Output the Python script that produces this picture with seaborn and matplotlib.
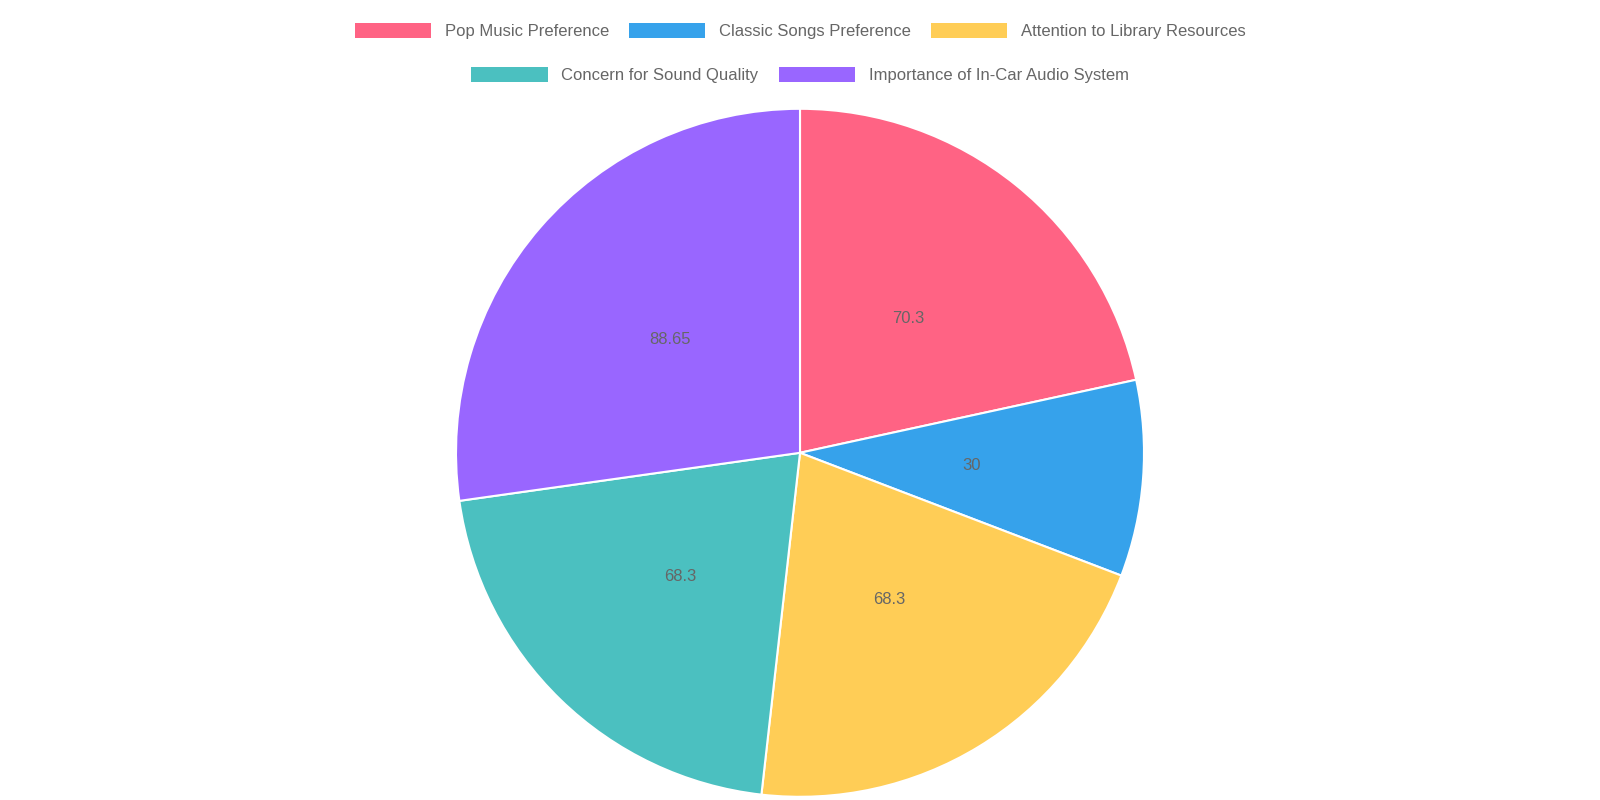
import matplotlib
matplotlib.use("Agg")
import matplotlib.pyplot as plt
import seaborn as sns
from matplotlib.patches import Patch

categories = ["Pop Music Preference", "Classic Songs Preference", "Attention to Library Resources",
              "Concern for Sound Quality", "Importance of In-Car Audio System"]
values = [70.3, 30, 68.3, 68.3, 88.65]
value_labels = ["70.3", "30", "68.3", "68.3", "88.65"]
colors = ["#FF6384", "#36A2EB", "#FFCD56", "#4BC0C0", "#9966FF"]

sns.set_theme(style="white")
plt.rcParams['font.family'] = ['Liberation Sans', 'DejaVu Sans']

fig = plt.figure(figsize=(16, 8), dpi=100)
ax = fig.add_axes([0.285, 0.004, 0.43, 0.86])
lab_iter = iter(value_labels)
wedges, texts, autotexts = ax.pie(values, colors=colors, startangle=90, counterclock=False,
                                  autopct=lambda p: next(lab_iter), pctdistance=0.5,
                                  wedgeprops=dict(edgecolor="white", linewidth=1.5),
                                  textprops=dict(color="#666666", fontsize=12))
ax.set_xlim(-1.0, 1.0)
ax.set_ylim(-1.0, 1.0)
ax.set_aspect("equal")
ax.axis("off")

handles = [Patch(facecolor=c, edgecolor="none") for c in colors]
kw = dict(frameon=False, fontsize=12, handlelength=4.6, handleheight=1.0,
          columnspacing=1.2, handletextpad=0.8, labelcolor="#666666")
fig.legend(handles[:3], categories[:3], loc="center", bbox_to_anchor=(0.5, 0.961), ncol=3, **kw)
fig.legend(handles[3:], categories[3:], loc="center", bbox_to_anchor=(0.5, 0.906), ncol=2, **kw)

fig.savefig("out.png", dpi=100, facecolor="white")
